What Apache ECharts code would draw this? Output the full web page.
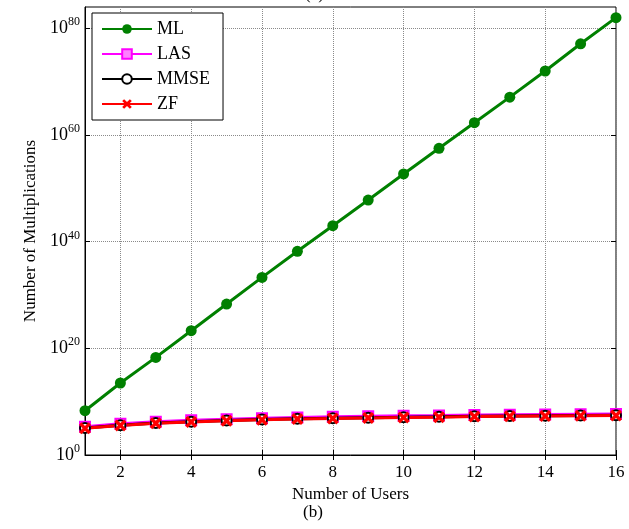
<!DOCTYPE html>
<html>
<head>
<meta charset="utf-8">
<script src="https://cdn.jsdelivr.net/npm/echarts@6/dist/echarts.min.js"></script>
<style>
  html, body { margin: 0; padding: 0; background: #fff; }
  #main { width: 629px; height: 529px; }
</style>
</head>
<body>
<div id="main"></div>
<script>
var users = [1, 2, 3, 4, 5, 6, 7, 8, 9, 10, 11, 12, 13, 14, 15, 16];
// log10 of number of multiplications
var mlExp   = [8.3, 13.5, 18.3, 23.3, 28.3, 33.3, 38.2, 43.0, 47.8, 52.7, 57.5, 62.3, 67.1, 72.0, 77.1, 82.0];
var lasExp  = [5.3, 5.85, 6.25, 6.5, 6.7, 6.9, 7.05, 7.15, 7.25, 7.35, 7.4, 7.5, 7.55, 7.6, 7.65, 7.7];
var mmseExp = [5.05, 5.6, 6.0, 6.25, 6.45, 6.65, 6.8, 6.9, 7.0, 7.1, 7.15, 7.25, 7.3, 7.35, 7.4, 7.45];
var zfExp   = [5.0, 5.55, 5.95, 6.2, 6.4, 6.6, 6.75, 6.85, 6.95, 7.05, 7.1, 7.2, 7.25, 7.3, 7.35, 7.4];
var xTicks = [2, 4, 6, 8, 10, 12, 14, 16];
var yTicks = [0, 20, 40, 60, 80];

var font = 'Liberation Serif';

function pairs(arr) {
  return users.map(function (u, i) { return [u, arr[i]]; });
}

var chart = echarts.init(document.getElementById('main'));

var gridLine = { show: true, lineStyle: { color: '#8a8a8a', type: 'dotted', width: 1 } };

var option = {
  backgroundColor: '#fff',
  animation: false,
  textStyle: { fontFamily: font },
  grid: {
    left: 85, right: 13, top: 7, bottom: 74,
    show: true, borderColor: '#000', borderWidth: 1, backgroundColor: 'transparent'
  },
  legend: {
    left: 92, top: 13,
    orient: 'vertical',
    backgroundColor: '#fff',
    borderColor: '#000', borderWidth: 1,
    padding: [7, 13, 7, 9],
    itemWidth: 50, itemHeight: 12, itemGap: 7,
    textStyle: { fontFamily: font, fontSize: 18, color: '#000', lineHeight: 18 },
    data: ['ML', 'LAS', 'MMSE', 'ZF']
  },
  xAxis: [{
    type: 'value', min: 1, max: 16,
    name: 'Number of Users', nameLocation: 'middle', nameGap: 30,
    nameTextStyle: { fontFamily: font, fontSize: 17, color: '#000' },
    axisLine: { show: true, lineStyle: { color: '#000', width: 1 } },
    axisTick: { show: true, inside: true, length: 5, customValues: xTicks, lineStyle: { color: '#000' } },
    axisLabel: { customValues: xTicks, fontFamily: font, fontSize: 17, color: '#000', margin: 9 },
    splitLine: gridLine
  }, {
    type: 'value', min: 1, max: 16, position: 'top',
    axisLine: { show: false },
    axisTick: { show: true, inside: true, length: 5, customValues: xTicks, lineStyle: { color: '#000' } },
    axisLabel: { show: false },
    splitLine: { show: false }
  }],
  yAxis: [{
    type: 'value', min: 0, max: 84,
    name: 'Number of Multiplications', nameLocation: 'middle', nameGap: 41,
    nameTextStyle: { fontFamily: font, fontSize: 17, color: '#000' },
    axisLine: { show: true, lineStyle: { color: '#000', width: 1 } },
    axisTick: { show: true, inside: true, length: 5, customValues: yTicks, lineStyle: { color: '#000' } },
    axisLabel: {
      customValues: yTicks, margin: 5,
      formatter: function (v) { return '{b|10}{s|' + v + '}'; },
      rich: {
        b: { fontFamily: font, fontSize: 18, color: '#000', lineHeight: 24 },
        s: { fontFamily: font, fontSize: 12, color: '#000', verticalAlign: 'top', lineHeight: 12 }
      }
    },
    splitLine: gridLine
  }, {
    type: 'value', min: 0, max: 84, position: 'right',
    axisLine: { show: false },
    axisTick: { show: true, inside: true, length: 5, customValues: yTicks, lineStyle: { color: '#000' } },
    axisLabel: { show: false },
    splitLine: { show: false }
  }],
  graphic: [{
    type: 'text', left: 303, top: 504,
    style: { text: '(b)', fontFamily: font, fontSize: 17, fill: '#000' }
  }, {
    type: 'text', left: 305, top: -14,
    style: { text: '(a)', fontFamily: font, fontSize: 17, fill: '#000' }
  }],
  series: [{
    name: 'ML', type: 'line', data: pairs(mlExp),
    symbol: 'circle', symbolSize: 11,
    lineStyle: { color: '#008000', width: 3 },
    itemStyle: { color: '#008000' }
  }, {
    name: 'LAS', type: 'line', data: pairs(lasExp),
    symbol: 'rect', symbolSize: 10,
    lineStyle: { color: '#ff00ff', width: 3 },
    itemStyle: { color: '#ff80ff', borderColor: '#ff00ff', borderWidth: 2 }
  }, {
    name: 'MMSE', type: 'line', data: pairs(mmseExp),
    symbol: 'emptyCircle', symbolSize: 10,
    lineStyle: { color: '#000', width: 3 },
    itemStyle: { color: '#000', borderColor: '#000', borderWidth: 2 }
  }, {
    name: 'ZF', type: 'line', data: pairs(zfExp),
    symbol: 'path://M2,0 L5,3 L8,0 L10,2 L7,5 L10,8 L8,10 L5,7 L2,10 L0,8 L3,5 L0,2 Z',
    symbolSize: 12,
    lineStyle: { color: '#ff0000', width: 3 },
    itemStyle: { color: '#ff0000' }
  }]
};

chart.setOption(option);
</script>
</body>
</html>
